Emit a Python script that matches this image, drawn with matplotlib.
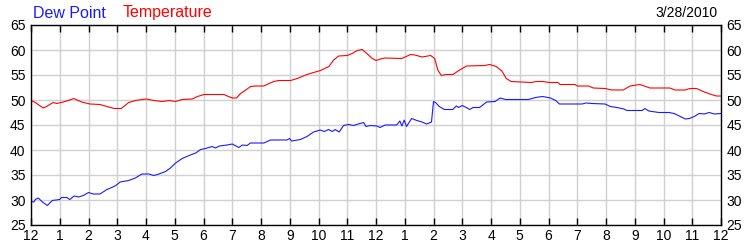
import matplotlib
matplotlib.use('Agg')
import matplotlib.pyplot as plt

plt.rcParams['font.family'] = ['Liberation Sans', 'DejaVu Sans']

# hours since midnight and readings (deg F)
temp_hours = [0.0, 0.15, 0.42, 0.54, 0.77, 0.89, 1.12, 1.3, 1.49, 1.76, 2.05, 2.4, 2.64, 2.9, 3.14,
              3.4, 3.63, 4.0, 4.27, 4.56, 4.8, 5.03, 5.26, 5.61, 5.79, 6.02, 6.71, 6.83, 7.0, 7.15,
              7.29, 7.47, 7.64, 7.81, 8.1, 8.28, 8.45, 8.62, 9.03, 9.26, 9.6, 9.83, 10.07, 10.36,
              10.53, 10.7, 11.0, 11.17, 11.35, 11.52, 11.7, 11.87, 12.0, 12.16, 12.3, 12.9, 13.2,
              13.35, 13.6, 13.9, 14.04, 14.15, 14.27, 14.44, 14.68, 14.88, 15.15, 15.78, 15.95,
              16.18, 16.38, 16.53, 16.7, 17.4, 17.57, 17.8, 18.03, 18.33, 18.4, 18.92, 19.0, 19.39,
              19.56, 19.97, 20.2, 20.6, 20.84, 21.18, 21.53, 22.22, 22.4, 22.75, 22.92, 23.15,
              23.38, 23.61, 23.84, 24.0]
temp_values = [49.9, 49.5, 48.4, 48.7, 49.5, 49.3, 49.6, 49.9, 50.3, 49.6, 49.2, 49.1, 48.7, 48.3, 48.3,
               49.5, 49.9, 50.2, 49.9, 49.7, 49.9, 49.7, 50.1, 50.2, 50.7, 51.1, 51.1, 50.8, 50.4, 50.4,
               51.3, 52.0, 52.7, 52.8, 52.8, 53.3, 53.7, 53.9, 53.9, 54.3, 55.1, 55.5, 55.9, 56.7,
               58.0, 58.8, 58.9, 59.3, 59.9, 60.1, 59.2, 58.3, 57.9, 58.2, 58.4, 58.3, 59.1,
               59.0, 58.6, 58.9, 58.3, 56.0, 54.9, 55.1, 55.1, 55.9, 56.8, 56.9, 57.1,
               56.7, 55.8, 54.3, 53.7, 53.5, 53.7, 53.7, 53.5, 53.5, 53.1, 53.1, 52.8, 52.8,
               52.4, 52.3, 52.0, 52.0, 52.8, 53.1, 52.4, 52.4, 52.0, 52.0, 52.3, 52.3,
               51.7, 51.2, 50.8, 50.8]

dew_hours = [0.0, 0.1, 0.15, 0.25, 0.42, 0.57, 0.74, 1.0, 1.06, 1.24, 1.35, 1.5, 1.65, 1.82, 2.0, 2.17,
             2.4, 2.64, 2.81, 2.95, 3.1, 3.4, 3.63, 3.86, 4.1, 4.27, 4.45, 4.68, 4.85, 5.03, 5.26, 5.5,
             5.73, 5.9, 6.07, 6.3, 6.42, 6.55, 6.82, 7.0, 7.23, 7.35, 7.52, 7.63, 8.1, 8.33, 8.9, 9.0,
             9.06, 9.37, 9.6, 9.83, 10.06, 10.2, 10.35, 10.48, 10.58, 10.72, 10.87, 11.05, 11.22,
             11.38, 11.57, 11.65, 11.8, 12.03, 12.14, 12.32, 12.72, 12.83, 12.9, 12.98, 13.06,
             13.24, 13.42, 13.6, 13.76, 13.93, 14.0, 14.07, 14.2, 14.38, 14.67, 14.79, 14.87, 15.0,
             15.14, 15.26, 15.38, 15.6, 15.85, 16.14, 16.32, 16.5, 17.3, 17.55, 17.79, 18.07, 18.25,
             18.38, 19.17, 19.3, 19.52, 19.97, 20.15, 20.38, 20.62, 20.73, 21.26, 21.35, 21.49,
             21.84, 22.19, 22.37, 22.55, 22.76, 22.9, 23.07, 23.24, 23.42, 23.59, 23.77, 24.0]
dew_values = [29.7, 29.6, 30.1, 30.4, 29.5, 28.9, 29.9, 30.1, 30.5, 30.5, 30.1, 30.8, 30.6, 30.9, 31.5, 31.2,
              31.2, 32.1, 32.5, 32.9, 33.6, 33.9, 34.4, 35.2, 35.2, 34.9, 35.2, 35.7, 36.4, 37.4, 38.3, 38.9,
              39.4, 40.1, 40.3, 40.7, 40.4, 40.8, 41.0, 41.2, 40.5, 41.0, 40.9, 41.4, 41.4, 42.0, 42.0, 42.3,
              41.8, 42.1, 42.7, 43.6, 44.0, 43.7, 44.1, 43.7, 44.1, 43.6, 44.9, 45.1, 44.9,
              45.2, 45.5, 44.7, 44.9, 44.8, 44.5, 45.0, 45.0, 45.8, 44.8, 46.0, 44.7,
              46.3, 45.9, 45.6, 45.2, 45.6, 49.7, 49.5, 48.7, 48.1, 48.1, 48.8, 48.5, 48.9,
              48.5, 48.1, 48.5, 48.5, 49.6, 49.7, 50.4, 50.1, 50.1, 50.5, 50.7, 50.4, 49.9,
              49.2, 49.2, 49.4, 49.3, 49.2, 48.7, 48.5, 48.2, 47.9, 47.9, 48.3, 47.8,
              47.5, 47.5, 47.3, 46.8, 46.2, 46.3, 46.7, 47.3, 47.2, 47.5, 47.2, 47.3]

hour_labels = ['12', '1', '2', '3', '4', '5', '6', '7', '8', '9', '10', '11'] * 2 + ['12']
y_ticks = [25, 30, 35, 40, 45, 50, 55, 60, 65]

fig = plt.figure(figsize=(7.5, 2.5), dpi=100)
ax = fig.add_axes([31 / 750, 0.1, 690 / 750, 0.8])

ax.plot(temp_hours, temp_values, color='#ff0000', lw=0.8)
ax.plot(dew_hours, dew_values, color='#1a1aff', lw=0.8)

ax.set_xlim(0, 24)
ax.set_ylim(25, 65)
ax.set_xticks(range(25))
ax.set_xticklabels(hour_labels)
ax.set_yticks(y_ticks)
ax.grid(True, color='#d0d0d0', lw=1.0)
ax.set_axisbelow(True)

ax.tick_params(axis='x', direction='in', length=5, width=1, top=True, labeltop=False,
               labelsize=10, pad=3)
ax.tick_params(axis='y', length=0, right=True, labelright=True, labelsize=10, pad=4)
for s in ax.spines.values():
    s.set_color('black')
    s.set_linewidth(1.0)

# title row
fig.text(33 / 750, 0.948, 'Dew Point', color='#1a1aff', fontsize=11.5, va='center', ha='left')
fig.text(123 / 750, 0.948, 'Temperature', color='#ff0000', fontsize=11.5, va='center', ha='left')
fig.text(718 / 750, 0.948, '3/28/2010', color='black', fontsize=10, va='center', ha='right')

fig.savefig('out.png', dpi=100)
